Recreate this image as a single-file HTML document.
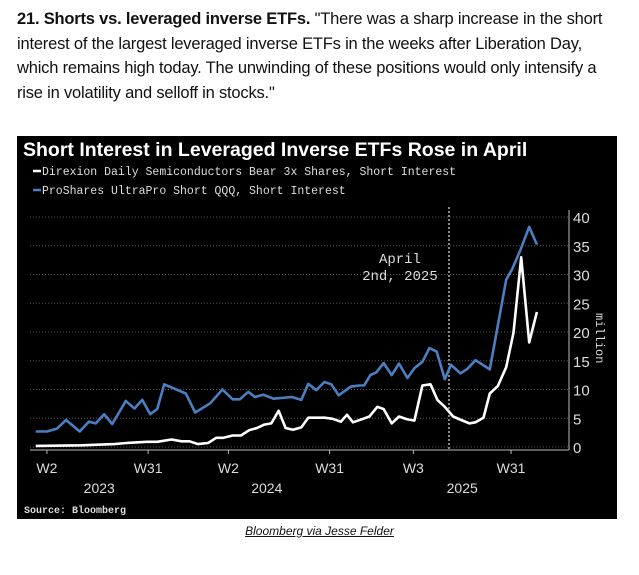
<!DOCTYPE html>
<html><head><meta charset="utf-8"><style>
body{margin:0;width:639px;height:575px;background:#fff;overflow:hidden;font-family:"Liberation Sans",Arial,sans-serif}
#intro{position:absolute;left:17px;top:7px;width:598px;font-size:16.5px;line-height:24.5px;color:#111;letter-spacing:-0.2px}
#cap{position:absolute;left:0;width:639px;top:524px;text-align:center;font-size:12px;font-style:italic;text-decoration:underline;color:#111}
svg{position:absolute;left:0;top:0}
</style></head><body>
<div id="intro"><b>21. Shorts vs. leveraged inverse ETFs.</b> "There was a sharp increase in the short interest of the largest leveraged inverse ETFs in the weeks after Liberation Day, which remains high today. The unwinding of these positions would only intensify a rise in volatility and selloff in stocks."</div>
<svg width="639" height="575" id="chart">
<rect x="17" y="136" width="600" height="383" fill="#000"/>
<text x="23" y="156" fill="#fff" font-size="19.5" font-weight="bold" font-family="Liberation Sans,sans-serif">Short Interest in Leveraged Inverse ETFs Rose in April</text>
<g font-family="Liberation Mono,monospace" font-size="11.5" fill="#ddd">
<line x1="33" y1="171" x2="41" y2="171" stroke="#fff" stroke-width="2.5"/>
<text x="42" y="175">Direxion Daily Semiconductors Bear 3x Shares, Short Interest</text>
<line x1="33" y1="190" x2="41" y2="190" stroke="#4a7fc1" stroke-width="2.5"/>
<text x="42" y="194">ProShares UltraPro Short QQQ, Short Interest</text>
</g>
<g id="grid"></g><g id="axes"></g><g id="lines"></g>
<text x="24" y="513" fill="#ddd" font-size="10" font-weight="bold" font-family="Liberation Mono,monospace">Source: Bloomberg</text>
</svg>
<div id="cap">Bloomberg via Jesse Felder</div>
<script>
const yTicks=[0,5,10,15,20,25,30,35,40];
const xTickWeeks=[0,29,52,81,105,133];
const xTickLabels=["W2","W31","W2","W31","W3","W31"];
const yearLabels=["2023","2024","2025"];
const yearWeeks=[15,63,119];
const eventWeek=115.2;
const blueWeeks=[-3.2,0,2.9,5.5,9.4,12,14,16.4,18.7,22.6,25.1,27.3,29.6,31.6,33.6,39.8,42.5,46.8,50.3,53.2,55.3,57.7,59.6,62,64.9,70.2,72.9,74.9,77.2,79.5,81.5,83.6,87.1,89.5,90.9,92.7,94.4,96.5,98.8,100.9,103.3,105.3,107.6,109.6,111.7,114,115.8,118.5,120.5,122.8,126.9,131.6,133.3,135.7,138.2,140.4];
const blueVals=[2.7,2.7,3.2,4.7,2.7,4.4,4.1,5.7,4.0,8.0,6.7,8.2,5.7,6.6,10.9,9.3,6.0,7.6,10,8.3,8.3,9.6,8.7,9.1,8.4,8.7,8.2,11.0,9.9,11.3,10.9,9.0,10.5,10.7,10.7,12.5,13.0,14.6,12.5,14.5,12.0,13.7,14.8,17.2,16.6,11.8,14.3,12.8,13.6,15.1,13.5,29.1,30.9,34.3,38.3,35.2];
const whiteWeeks=[-3.2,9.9,19.3,22.8,28.7,31.6,35.7,38.6,40.9,43.3,46.2,48.5,50.6,53.2,55.6,57.9,60.2,62.3,64.3,66.4,68.4,70.5,72.9,74.9,79.5,81.9,84.2,86,87.7,90.6,92.4,94.7,96.5,98.8,100.9,103.3,105.3,107.6,109.9,111.9,114,116.4,118.7,121.1,122.8,125.1,126.9,129.2,131.6,133.7,135.9,138.2,140.4];
const whiteVals=[0.2,0.3,0.5,0.7,0.9,0.9,1.3,1.0,1.0,0.5,0.7,1.6,1.6,2.0,2.0,2.9,3.3,3.9,4.1,6.3,3.3,3.0,3.4,5.1,5.1,4.9,4.4,5.6,4.3,4.9,5.3,7.0,6.6,4.1,5.3,4.8,4.6,10.7,10.9,8.2,7.0,5.3,4.7,4.1,4.3,5.1,9.3,10.6,13.9,19.9,33.0,18.2,23.5];
const X=w=>46.9+w*3.49, Y=v=>447-v*5.75;
const NS="http://www.w3.org/2000/svg";
function mk(p,t,a){const e=document.createElementNS(NS,t);for(const k in a)e.setAttribute(k,a[k]);p.appendChild(e);return e;}
const grid=document.getElementById('grid'),axes=document.getElementById('axes'),lines=document.getElementById('lines');
yTicks.forEach(v=>{
 const g=mk(grid,'line',{x1:30,x2:569,y1:Y(v),y2:Y(v),stroke:'#555','stroke-width':1,'stroke-dasharray':'1 2'});
 
 
 const t=mk(axes,'text',{x:573,y:Y(v)+6,fill:'#ddd','font-size':15,'font-family':'Liberation Sans Narrow,Liberation Sans,sans-serif'});
 t.textContent=v;
 
 
});
const ya=mk(axes,'line',{x1:569,x2:569,y1:210,y2:450,stroke:'#bbb','stroke-width':1});


const xa=mk(axes,'line',{x1:30,x2:569,y1:450,y2:450,stroke:'#bbb','stroke-width':1});


const yt=mk(axes,'text',{x:0,y:0,fill:'#ddd','font-size':12,'font-family':'Liberation Mono,monospace',transform:'translate(596,313) rotate(90)'});
yt.textContent='million';


xTickWeeks.forEach((w,i)=>{
 mk(axes,'line',{x1:X(w),x2:X(w),y1:450,y2:454,stroke:'#bbb'});
 const t=mk(axes,'text',{x:X(w),y:473,fill:'#ddd','font-size':14,'text-anchor':'middle','font-family':'Liberation Sans Narrow,Liberation Sans,sans-serif'});
 t.textContent=xTickLabels[i];
 
 
});
yearLabels.forEach((y,i)=>{
 const t=mk(axes,'text',{x:X(yearWeeks[i]),y:493,fill:'#ddd','font-size':14,'text-anchor':'middle','font-family':'Liberation Sans Narrow,Liberation Sans,sans-serif'});
 t.textContent=y;
 
 
});
const ev=mk(axes,'line',{x1:X(eventWeek),x2:X(eventWeek),y1:207,y2:450,stroke:'#ddd','stroke-width':1.2,'stroke-dasharray':'2 2'});


[['April',263],['2nd, 2025',280]].forEach(([s,y])=>{
 const t=mk(axes,'text',{x:X(eventWeek)-49,y:y,fill:'#ddd','font-size':14,'text-anchor':'middle','font-family':'Liberation Mono,monospace'});
 t.textContent=s;
 
 
});
function pts(ws,vs){return ws.map((w,i)=>X(w).toFixed(1)+','+Y(vs[i]).toFixed(1)).join(' ');}
const bl=mk(lines,'polyline',{points:pts(blueWeeks,blueVals),fill:'none',stroke:'#4a7fc1','stroke-width':2.6,'stroke-linejoin':'round'});


const wl=mk(lines,'polyline',{points:pts(whiteWeeks,whiteVals),fill:'none',stroke:'#fff','stroke-width':2.6,'stroke-linejoin':'round'});


</script>
</body></html>
